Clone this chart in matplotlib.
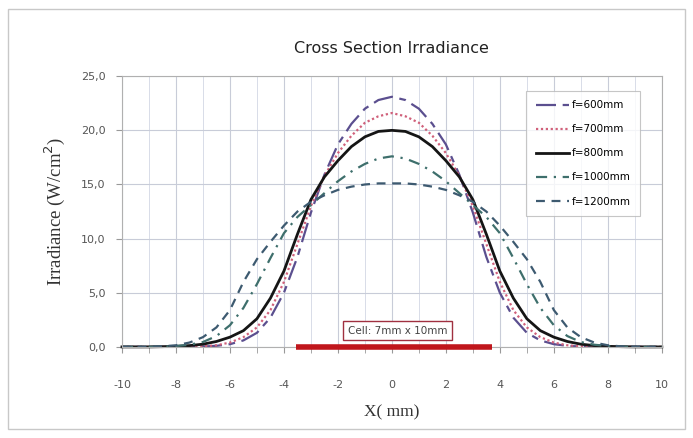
import matplotlib.pyplot as plt
import matplotlib.patches as mpatches
from matplotlib.ticker import MultipleLocator, FuncFormatter

plt.rcParams['axes.unicode_minus'] = False

# x positions (mm) and irradiance
x_mm = [i * 0.5 for i in range(-20, 21)]

f600 = [0, 0, 0, 0, 0, 0.01, 0.03, 0.1, 0.25, 0.6, 1.3, 2.7, 5.0, 8.3, 12.4, 15.9, 18.7, 20.6, 22.0, 22.8,
        23.1,
        22.8, 22.0, 20.6, 18.7, 15.9, 12.4, 8.3, 5.0, 2.7, 1.3, 0.6, 0.25, 0.1, 0.03, 0.01, 0, 0, 0, 0, 0]
f700 = [0, 0, 0, 0, 0, 0.02, 0.05, 0.15, 0.4, 0.9, 1.8, 3.4, 6.0, 9.5, 13.0, 15.8, 17.9, 19.5, 20.7, 21.3,
        21.6,
        21.3, 20.7, 19.5, 17.9, 15.8, 13.0, 9.5, 6.0, 3.4, 1.8, 0.9, 0.4, 0.15, 0.05, 0.02, 0, 0, 0, 0, 0]
f800 = [0, 0, 0, 0.02, 0.05, 0.12, 0.25, 0.5, 0.9, 1.5, 2.6, 4.5, 7.0, 10.4, 13.6, 15.7, 17.2, 18.5, 19.4, 19.9,
        20.0,
        19.9, 19.4, 18.5, 17.2, 15.7, 13.6, 10.4, 7.0, 4.5, 2.6, 1.5, 0.9, 0.5, 0.25, 0.12, 0.05, 0.02, 0, 0, 0]
f1000 = [0, 0, 0, 0.03, 0.08, 0.2, 0.45, 1.0, 2.0, 3.6, 5.8, 8.2, 10.5, 12.0, 13.1, 14.2, 15.3, 16.2, 16.9, 17.4,
         17.6,
         17.4, 16.9, 16.2, 15.3, 14.2, 13.1, 12.0, 10.5, 8.2, 5.8, 3.6, 2.0, 1.0, 0.45, 0.2, 0.08, 0.03, 0, 0, 0]
f1200 = [0, 0, 0.02, 0.05, 0.15, 0.4, 0.9, 1.8, 3.4, 6.0, 8.1, 9.7, 11.2, 12.5, 13.4, 14.0, 14.5, 14.8, 15.0, 15.1,
         15.1,
         15.1, 15.0, 14.8, 14.5, 14.0, 13.4, 12.5, 11.2, 9.7, 8.1, 6.0, 3.4, 1.8, 0.9, 0.4, 0.15, 0.05, 0.02, 0, 0]

labels = ['f=600mm', 'f=700mm', 'f=800mm', 'f=1000mm', 'f=1200mm']
cell_x = [-3.55, 3.7]
cell_label = 'Cell: 7mm x 10mm'

fig = plt.figure(figsize=(6.93, 4.38), dpi=100)
ax = fig.add_axes([0.176, 0.208, 0.779, 0.618])

# outer chart border
fig.patches.append(mpatches.Rectangle((0.012, 0.02), 0.976, 0.96, transform=fig.transFigure,
                                      fill=False, edgecolor='#c8c8c8', linewidth=1.0))

ax.plot(x_mm, f600, color='#5b4f8f', lw=1.6, ls=(0, (9, 3, 3, 3)), label=labels[0], clip_on=False)
ax.plot(x_mm, f700, color='#d0607a', lw=1.6, ls=(0, (1, 1.2)), label=labels[1], clip_on=False)
ax.plot(x_mm, f800, color='#151515', lw=2.0, ls='-', label=labels[2], clip_on=False)
ax.plot(x_mm, f1000, color='#3e6f6c', lw=1.6, ls=(0, (5, 3, 1, 3)), label=labels[3], clip_on=False)
ax.plot(x_mm, f1200, color='#3d5a70', lw=1.6, ls=(0, (4, 3)), label=labels[4], clip_on=False)

# illuminated cell marker
ax.plot(cell_x, [0, 0], color='#c0161c', lw=4, solid_capstyle='butt', clip_on=False, zorder=5)
ax.text(0.2, 1.5, cell_label, ha='center', va='center', fontsize=7.5, color='#444444',
        bbox=dict(boxstyle='square,pad=0.45', facecolor='white', edgecolor='#a03040', lw=1.0))

ax.set_xlim(-10, 10)
ax.set_ylim(0, 25)
ax.xaxis.set_major_locator(MultipleLocator(2))
ax.xaxis.set_minor_locator(MultipleLocator(1))
ax.yaxis.set_major_locator(MultipleLocator(5))
ax.yaxis.set_major_formatter(FuncFormatter(lambda v, p: f'{v:.1f}'.replace('.', ',')))
ax.grid(which='major', color='#c8ccd8', lw=0.8)
ax.grid(which='minor', axis='x', color='#d8dce8', lw=0.7)
ax.set_axisbelow(True)
ax.tick_params(which='both', length=4, color='#999999', labelsize=8, labelcolor='#555555')
ax.tick_params(axis='x', which='major', pad=20)
ax.tick_params(axis='y', pad=8)
for s in ax.spines.values():
    s.set_color('#b0b0b0')
    s.set_linewidth(0.8)

ax.set_title('Cross Section Irradiance', fontsize=11.5, color='#222222', pad=17)
ax.set_xlabel('X( mm)', family='Liberation Serif', fontsize=12.5, color='#333333', labelpad=10)
ax.set_ylabel('Irradiance (W/cm$^2$)', family='Liberation Serif', fontsize=13.5, color='#333333', labelpad=10)

leg = ax.legend(loc='upper right', bbox_to_anchor=(0.97, 0.965), fontsize=7.5, frameon=True,
                fancybox=False, edgecolor='#b8b8b8', handlelength=3.2, labelspacing=1.35,
                borderpad=0.9, handletextpad=0.3)
leg.get_frame().set_linewidth(0.8)

fig.savefig('out.png', dpi=100)
